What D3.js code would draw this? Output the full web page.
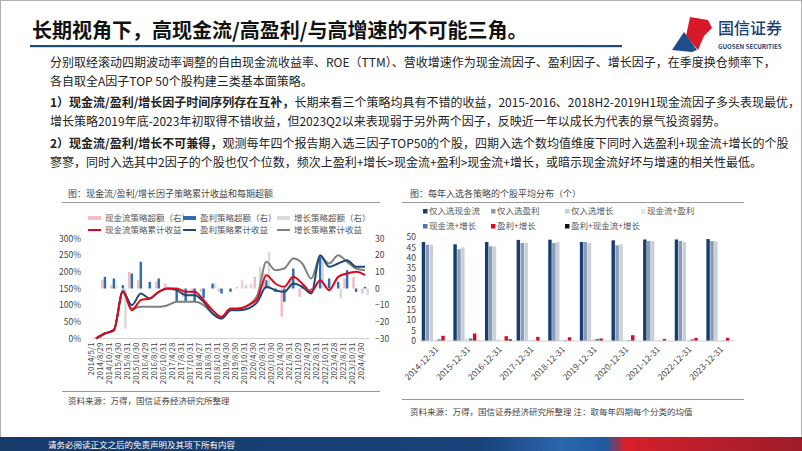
<!DOCTYPE html>
<html><head><meta charset="utf-8">
<script src="https://cdn.jsdelivr.net/npm/d3@7"></script>
<style>body{margin:0;background:#fff}svg{display:block}text{font-family:"Noto Sans CJK SC","Noto Sans",sans-serif}</style>
</head><body><svg id="c" width="802" height="451"></svg>
<script>
// ---------- data ----------
const dates = ["2014/5/1","2014/8/29","2014/10/31","2015/4/30","2015/8/31","2015/10/30","2016/4/29","2016/8/31","2016/10/31","2017/4/28","2017/8/31","2017/10/31","2018/4/27","2018/8/31","2018/10/31","2019/4/30","2019/8/30","2019/10/31","2020/4/30","2020/8/31","2020/10/30","2021/4/30","2021/8/31","2021/10/29","2022/4/29","2022/8/31","2022/10/31","2023/4/28","2023/8/31","2023/10/31","2024/4/30"];
const cfCum = [0,15,25,140,85,115,120,140,150,150,140,140,115,85,65,90,90,100,120,190,165,155,185,165,140,175,145,185,195,200,190];
const prCum = [0,15,25,140,100,135,120,140,150,145,130,130,110,75,60,85,85,90,110,155,145,140,165,155,135,250,215,225,235,215,215];
const grCum = [0,15,25,145,90,95,95,95,100,110,110,110,100,75,60,85,90,100,130,230,205,210,240,225,180,245,225,250,230,210,205];
const cfEx = [0,5,2,0,10,5,0,4,3,0,-5,-3,-2,0,-2,0,1,2,7,9,0,-17,5,-5,0,0,2,0,6,7,-3];
const prEx = [0,7,6,2,9,16,4,6,0,-8,-8,-8,-6,3,-3,-2,0,0,0,5,-2,-8,12,2,-1,20,6,4,11,-2,1];
const grEx = [0,0,1,-24,0,0,0,0,0,0,0,0,0,3,0,0,5,3,13,22,0,0,0,0,0,18,0,-6,0,0,-4];
const leftTicks = [0,50,100,150,200,250,300];
const rightTicks = [-30,-20,-10,0,10,20,30];

const years = ["2014-12-31","2015-12-31","2016-12-31","2017-12-31","2018-12-31","2019-12-31","2020-12-31","2021-12-31","2022-12-31","2023-12-31"];
const onlyCF = [47.6,46.5,47.6,48.6,48.7,47.6,48.4,48.8,48.8,49.0];
const onlyPR = [46.3,44.1,45.5,47.1,47.1,47.6,46.0,48.1,48.1,48.1];
const onlyGR = [46.3,45.0,45.5,47.1,47.5,47.1,46.5,48.0,47.6,47.9];
const cfPr = [0.5,1.5,1.0,0.3,0.2,1.0,0.5,0.2,0.3,0.3];
const cfGr = [0.8,1.2,0.0,0.2,0.3,1.0,0.3,0.1,0.8,0.2];
const prGr = [2.5,3.6,2.3,2.0,1.8,1.2,2.8,1.0,1.5,1.5];
const all3 = [0.0,0.1,0.8,0.0,0.0,0.0,0.0,0.0,0.0,0.0];
const barTicks = [0,5,10,15,20,25,30,35,40,45,50];

// ---------- page ----------
const svg = d3.select("#c");
svg.append("rect").attr("x",0.5).attr("y",0.5).attr("width",801).attr("height",450).attr("fill","#fff").attr("stroke","#b0b0b0");

svg.append("text").attr("x",32).attr("y",38).attr("font-size",20).attr("font-weight",700).attr("fill","#111")
  .text("长期视角下，高现金流/高盈利/与高增速的不可能三角。");
svg.append("rect").attr("x",30).attr("y",45).attr("width",592).attr("height",2.2).attr("fill","#1f4e79");

// logo
const lg = svg.append("g").attr("transform","translate(668,14)");
lg.append("path").attr("d","M22,3 L40,6 L44,14 L36,22 L30,36 L18,22 Z").attr("fill","#d7192a");
lg.append("path").attr("d","M16,18 L29,36 L24,38 L4,36 Z").attr("fill","#1d4e89");
lg.append("text").attr("x",50).attr("y",20).attr("font-size",16).attr("font-weight",500).attr("fill","#1d3f72").text("国信证券");
lg.append("text").attr("x",50).attr("y",35).attr("font-size",6.2).attr("font-weight",700).attr("fill","#1d3f72").text("GUOSEN SECURITIES");

// body text
const body = [
  {y:67, parts:[["分别取经滚动四期波动率调整的自由现金流收益率、ROE（TTM）、营收增速作为现金流因子、盈利因子、增长因子，在季度换仓频率下，",400]]},
  {y:86, parts:[["各自取全A因子TOP 50个股构建三类基本面策略。",400]]},
  {y:107, parts:[["1）现金流/盈利/增长因子时间序列存在互补，",700],["长期来看三个策略均具有不错的收益，2015-2016、2018H2-2019H1现金流因子多头表现最优，",400]]},
  {y:126, parts:[["增长策略2019年底-2023年初取得不错收益，但2023Q2以来表现弱于另外两个因子，反映近一年以成长为代表的景气投资弱势。",400]]},
  {y:148, parts:[["2）现金流/盈利/增长不可兼得，",700],["观测每年四个报告期入选三因子TOP50的个股，四期入选个数均值维度下同时入选盈利+现金流+增长的个股",400]]},
  {y:167, parts:[["寥寥，同时入选其中2因子的个股也仅个位数，频次上盈利+增长>现金流+盈利>现金流+增长，或暗示现金流好坏与增速的相关性最低。",400]]}
];
body.forEach(l=>{
  const t = svg.append("text").attr("x",50).attr("y",l.y).attr("font-size",12).attr("fill","#222");
  l.parts.forEach(p=>t.append("tspan").attr("font-weight",p[1]).text(p[0]));
});

// footer
const defs = svg.append("defs");
const gr = defs.append("linearGradient").attr("id","ft").attr("x1",0).attr("x2",1);
[[0,"#163a6a"],[0.6,"#184279"],[0.7,"#2c66ad"],[0.755,"#1f5aa0"],[0.78,"#d81f2b"],[0.88,"#b91f2c"],[1,"#9c1c28"]].forEach(s=>gr.append("stop").attr("offset",s[0]).attr("stop-color",s[1]));
svg.append("rect").attr("x",0).attr("y",437).attr("width",802).attr("height",14).attr("fill","url(#ft)");
svg.append("text").attr("x",48).attr("y",447.5).attr("font-size",8.5).attr("fill","#fff").text("请务必阅读正文之后的免责声明及其项下所有内容");

// ---------- left chart ----------
const L = svg.append("g");
L.append("text").attr("x",68).attr("y",197).attr("font-size",9).attr("fill","#444").text("图：现金流/盈利/增长因子策略累计收益和每期超额");
L.append("line").attr("x1",62).attr("x2",380).attr("y1",202.5).attr("y2",202.5).attr("stroke","#999");

const lColors = {cfBar:"#f6bcc6", prBar:"#2e6fb2", grBar:"#d9d9d9", cfLine:"#e0061b", prLine:"#1f4a73", grLine:"#808080"};
const legL = [
  [88,220,"rect",lColors.cfBar,"现金流策略超额（右）"],[183,220,"rect",lColors.prBar,"盈利策略超额（右）"],[277,220,"rect",lColors.grBar,"增长策略超额（右）"],
  [88,232,"line",lColors.cfLine,"现金流策略累计收益"],[183,232,"line",lColors.prLine,"盈利策略累计收益"],[277,232,"line",lColors.grLine,"增长策略累计收益"]
];
legL.forEach(d=>{
  if(d[2]==="rect") L.append("rect").attr("x",d[0]).attr("y",d[1]-4).attr("width",13).attr("height",4).attr("fill",d[3]);
  else L.append("line").attr("x1",d[0]).attr("x2",d[0]+13).attr("y1",d[1]-2).attr("y2",d[1]-2).attr("stroke",d[3]).attr("stroke-width",2);
  L.append("text").attr("x",d[0]+17).attr("y",d[1]+1).attr("font-size",8.5).attr("fill","#555").text(d[4]);
});

const xL = d3.scaleBand().domain(dates).range([92,369]).paddingInner(0.12);
const yL = d3.scaleLinear().domain([0,300]).range([338.5,238.5]);
const yR = d3.scaleLinear().domain([-30,30]).range([338.5,238.5]);
const xIn = d3.scaleBand().domain(["cf","pr","gr"]).range([0,xL.bandwidth()]).padding(0.05);

L.append("g").attr("transform","translate(84,0)").call(d3.axisLeft(yL).tickValues(leftTicks).tickFormat(d=>d+"%").tickSize(0))
  .call(g=>{g.select(".domain").remove();g.selectAll("text").attr("font-size",8.5).attr("fill","#444").attr("font-family",null);});
L.append("g").attr("transform","translate(372,0)").call(d3.axisRight(yR).tickValues(rightTicks).tickSize(0))
  .call(g=>{g.select(".domain").remove();g.selectAll("text").attr("font-size",8.5).attr("fill","#444").attr("font-family",null);});

const barSeries = [["cf",cfEx,lColors.cfBar],["pr",prEx,lColors.prBar],["gr",grEx,lColors.grBar]];
barSeries.forEach(([k,arr,col])=>{
  L.append("g").selectAll("rect").data(dates).join("rect")
    .attr("x",d=>xL(d)+xIn(k)).attr("width",xIn.bandwidth())
    .attr("y",(d,i)=>Math.min(yR(arr[i]),yR(0))).attr("height",(d,i)=>Math.abs(yR(arr[i])-yR(0)))
    .attr("fill",col);
});
L.append("line").attr("x1",92).attr("x2",369).attr("y1",yL(0)).attr("y2",yL(0)).attr("stroke","#d0d0d0");

const lineGen = arr => d3.line().x((d,i)=>xL(dates[i])+xL.bandwidth()/2).y(d=>yL(d)).curve(d3.curveMonotoneX)(arr);
[[grCum,lColors.grLine],[prCum,lColors.prLine],[cfCum,lColors.cfLine]].forEach(([arr,col])=>{
  L.append("path").attr("d",lineGen(arr)).attr("fill","none").attr("stroke",col).attr("stroke-width",2);
});

L.append("g").attr("transform","translate(0,338.5)").call(d3.axisBottom(xL).tickSize(0))
  .call(g=>{g.select(".domain").remove();g.selectAll("text").attr("font-size",8).attr("fill","#444").attr("font-family",null)
    .attr("text-anchor","end").attr("dx","-4").attr("dy","-0.5em").attr("x",0).attr("y",0)
    .attr("transform","translate(2.5,0) rotate(-90)");});

L.append("line").attr("x1",62).attr("x2",380).attr("y1",391.5).attr("y2",391.5).attr("stroke","#999");
L.append("text").attr("x",68).attr("y",404).attr("font-size",8.5).attr("fill","#444").text("资料来源：万得，国信证券经济研究所整理");

// ---------- right chart ----------
const R = svg.append("g");
R.append("text").attr("x",410).attr("y",197).attr("font-size",9).attr("fill","#444").text("图：每年入选各策略的个股平均分布（个）");
R.append("line").attr("x1",402).attr("x2",744).attr("y1",202.5).attr("y2",202.5).attr("stroke","#999");

const rSeries = [
  ["仅入选现金流",onlyCF,"#143f6e"],["仅入选盈利",onlyPR,"#8a9bb3"],["仅入选增长",onlyGR,"#c7d0da"],["现金流+盈利",cfPr,"#dde5ee"],
  ["现金流+增长",cfGr,"#4a79b0"],["盈利+增长",prGr,"#d40f22"],["盈利+现金流+增长",all3,"#111"]
];
const legPos = [[423,214],[491,214],[565,214],[641,214],[423,229],[491,229],[565,229]];
rSeries.forEach((s,i)=>{
  const [lx,ly] = legPos[i];
  R.append("rect").attr("x",lx).attr("y",ly-5).attr("width",4.5).attr("height",4.5).attr("fill",s[2]);
  R.append("text").attr("x",lx+6).attr("y",ly).attr("font-size",8.5).attr("fill","#555").text(s[0]);
});

const xB = d3.scaleBand().domain(years).range([420,735]).paddingInner(0.12).paddingOuter(0.04);
const xB2 = d3.scaleBand().domain(rSeries.map(s=>s[0])).range([0,xB.bandwidth()]).padding(0.12);
const yB = d3.scaleLinear().domain([0,50]).range([341,237]);

R.append("g").attr("transform","translate(419,0)").call(d3.axisLeft(yB).tickValues(barTicks).tickSize(0))
  .call(g=>{g.select(".domain").remove();g.selectAll("text").attr("font-size",8.5).attr("fill","#444").attr("font-family",null);});

rSeries.forEach(s=>{
  R.append("g").selectAll("rect").data(years).join("rect")
    .attr("x",d=>xB(d)+xB2(s[0])).attr("width",xB2.bandwidth())
    .attr("y",(d,i)=>yB(s[1][i])).attr("height",(d,i)=>yB(0)-yB(s[1][i])).attr("fill",s[2]);
});
R.append("line").attr("x1",420).attr("x2",735).attr("y1",yB(0)).attr("y2",yB(0)).attr("stroke","#d0d0d0");

R.append("g").attr("transform","translate(0,341)").call(d3.axisBottom(xB).tickSize(0))
  .call(g=>{g.select(".domain").remove();g.selectAll("text").attr("font-size",8.5).attr("fill","#444").attr("font-family",null)
    .attr("text-anchor","end").attr("x",0).attr("y",0).attr("dy",0)
    .attr("transform","translate(4,9) rotate(-45)");});

R.append("line").attr("x1",402).attr("x2",744).attr("y1",399.5).attr("y2",399.5).attr("stroke","#999");
R.append("text").attr("x",410).attr("y",415).attr("font-size",8.5).attr("fill","#444").text("资料来源：万得，国信证券经济研究所整理   注：取每年四期每个分类的均值");
</script></body></html>
